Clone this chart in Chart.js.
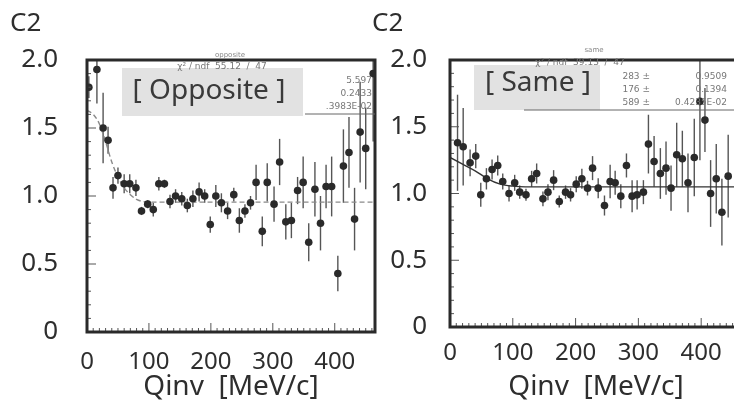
<!DOCTYPE html>
<html lang="ja">
<head>
<meta charset="UTF-8">
<title>C2 vs Qinv</title>
<script src="https://cdn.jsdelivr.net/npm/chart.js"></script>
<style>
  body {
    margin: 0;
    width: 734px;
    height: 406px;
    overflow: hidden;
    position: relative;
    background: #fff;
  }
  .panel { position: absolute; top: 0; width: 380px; height: 406px; }
  #leftPanel { left: 0; }
  #rightPanel { left: 367px; }
</style>
</head>
<body>
<div class="panel" id="leftPanel"><canvas id="opp" width="380" height="406"></canvas></div>
<div class="panel" id="rightPanel"><canvas id="same" width="380" height="406"></canvas></div>
<script>
// axis ticks
const xTicks = [0, 100, 200, 300, 400];
const yTicks = [0, 0.5, 1.0, 1.5, 2.0];
const yTickLabels = ['0', '0.5', '1.0', '1.5', '2.0'];

// [ Opposite ] : Qinv (MeV/c), C2, error
const oppQ = [3, 16, 26, 34, 42, 50, 60, 69, 79, 88,
  98, 107, 116, 125, 134, 143, 153, 162, 171, 181,
  190, 199, 208, 217, 227, 237, 246, 255, 264, 273,
  283, 291, 302, 311, 321, 330, 340, 349, 358, 368,
  377, 386, 395, 405, 414, 423, 432, 441, 450, 462];
const oppC2 = [1.80, 1.93, 1.50, 1.41, 1.06, 1.15, 1.09, 1.09, 1.06, 0.89,
  0.94, 0.90, 1.09, 1.09, 0.96, 1.00, 0.98, 0.93, 0.98, 1.03,
  1.00, 0.79, 1.00, 0.95, 0.89, 1.01, 0.82, 0.89, 0.95, 1.10,
  0.74, 1.10, 0.94, 1.25, 0.81, 0.82, 1.04, 1.10, 0.66, 1.05,
  0.80, 1.07, 1.07, 0.43, 1.22, 1.32, 0.83, 1.47, 1.35, 1.90];
const oppErr = [0.08, 0.25, 0.26, 0.10, 0.08, 0.06, 0.07, 0.07, 0.06, 0.03,
  0.03, 0.05, 0.05, 0.03, 0.05, 0.05, 0.05, 0.05, 0.06, 0.07,
  0.05, 0.06, 0.08, 0.07, 0.06, 0.05, 0.09, 0.05, 0.05, 0.13,
  0.11, 0.14, 0.13, 0.17, 0.13, 0.13, 0.10, 0.19, 0.14, 0.20,
  0.20, 0.16, 0.22, 0.13, 0.27, 0.26, 0.23, 0.37, 0.30, 0.50];
const oppFitQ = [0, 10, 20, 30, 40, 50, 60, 70, 80, 90, 100, 465];
const oppFitC2 = [1.63, 1.60, 1.53, 1.40, 1.25, 1.14, 1.06, 1.01, 0.975, 0.96, 0.955, 0.955];

// [ Same ]
const sameQ = [12, 21, 32, 41, 49, 58, 67, 76, 84, 94,
  103, 111, 121, 130, 138, 148, 156, 165, 174, 184,
  192, 201, 210, 219, 227, 236, 246, 255, 263, 272,
  281, 290, 298, 308, 316, 325, 335, 344, 352, 361,
  370, 379, 389, 398, 406, 415, 424, 433, 443];
const sameC2 = [1.38, 1.35, 1.23, 1.28, 0.99, 1.11, 1.18, 1.21, 1.09, 1.00,
  1.08, 1.01, 0.99, 1.11, 1.15, 0.96, 1.01, 1.10, 0.94, 1.01,
  0.99, 1.07, 1.11, 1.04, 1.19, 1.04, 0.91, 1.09, 1.08, 0.98,
  1.21, 0.98, 0.99, 1.01, 1.37, 1.24, 1.15, 1.19, 1.04, 1.29,
  1.26, 1.08, 1.27, 1.69, 1.55, 1.00, 1.11, 0.86, 1.13];
const sameErr = [0.36, 0.29, 0.10, 0.09, 0.09, 0.08, 0.075, 0.075, 0.06, 0.06,
  0.06, 0.05, 0.045, 0.06, 0.075, 0.055, 0.06, 0.075, 0.045, 0.05,
  0.05, 0.06, 0.075, 0.055, 0.09, 0.075, 0.075, 0.125, 0.09, 0.09,
  0.09, 0.12, 0.11, 0.09, 0.22, 0.19, 0.19, 0.20, 0.17, 0.24,
  0.21, 0.22, 0.29, 0.44, 0.24, 0.25, 0.26, 0.25, 0.31];
const sameFitQ = [0, 20, 40, 60, 80, 100, 120, 465];
const sameFitC2 = [1.27, 1.22, 1.17, 1.11, 1.07, 1.055, 1.05, 1.05];

const ink = '#2a2a2a';
const TXT = "'Noto Sans', sans-serif";
const TINY = "9px 'DejaVu Sans', sans-serif";

function makePanel(id, p) {
  const pts = p.q.map((q, i) => ({ x: q, y: p.c2[i] }));
  const fit = p.fitQ.map((q, i) => ({ x: q, y: p.fitC2[i] }));

  const errorBars = {
    id: 'errorBars',
    beforeDatasetsDraw(chart) {
      const { ctx, chartArea: a, scales: { x, y } } = chart;
      ctx.save();
      ctx.beginPath();
      ctx.rect(a.left, a.top, a.width, a.height);
      ctx.clip();
      ctx.strokeStyle = '#555';
      ctx.lineWidth = 1.4;
      p.q.forEach((q, i) => {
        const px = x.getPixelForValue(q);
        ctx.beginPath();
        ctx.moveTo(px, y.getPixelForValue(p.c2[i] - p.err[i]));
        ctx.lineTo(px, y.getPixelForValue(p.c2[i] + p.err[i]));
        ctx.stroke();
      });
      ctx.restore();
    }
  };

  const frame = {
    id: 'frame',
    afterDraw(chart) {
      const { ctx, chartArea: a, scales: { x, y } } = chart;
      ctx.save();
      // little inside ticks, ROOT style
      ctx.strokeStyle = '#555';
      ctx.lineWidth = 1;
      for (let k = 0; k <= 20; k++) {
        const py = y.getPixelForValue(k / 10);
        const len = k % 5 === 0 ? 9 : 4;
        ctx.beginPath();
        ctx.moveTo(a.left, py);
        ctx.lineTo(a.left + len, py);
        ctx.stroke();
      }
      for (let v = 0; v <= x.max; v += 10) {
        const px = x.getPixelForValue(v);
        const len = v % 100 === 0 ? 9 : 4;
        ctx.beginPath();
        ctx.moveTo(px, a.bottom);
        ctx.lineTo(px, a.bottom - len);
        ctx.stroke();
      }
      ctx.lineWidth = 3;
      ctx.strokeStyle = ink;
      ctx.strokeRect(a.left, a.top, a.width, a.height);
      p.decor(ctx, a);
      ctx.restore();
    }
  };

  return new Chart(document.getElementById(id), {
    type: 'scatter',
    data: {
      datasets: [
        {
          data: pts,
          pointRadius: 3.8,
          pointBackgroundColor: ink,
          pointBorderWidth: 0
        },
        {
          data: fit,
          showLine: true,
          pointRadius: 0,
          borderColor: p.fitColor,
          borderWidth: 1.4,
          borderDash: p.fitDash,
          cubicInterpolationMode: 'monotone'
        }
      ]
    },
    options: {
      responsive: false,
      animation: false,
      layout: { padding: { top: 60, right: 5, left: 0, bottom: 0 } },
      plugins: { legend: { display: false }, tooltip: { enabled: false } },
      scales: {
        x: {
          type: 'linear',
          min: 0,
          max: 465,
          afterBuildTicks: s => { s.ticks = xTicks.map(v => ({ value: v })); },
          afterFit: s => { s.height = p.bottomH; },
          grid: { display: false },
          border: { display: false },
          ticks: { color: '#2e2e2e', font: { family: TXT, size: 24 }, padding: p.xPad, maxRotation: 0 },
          title: {
            display: true,
            text: 'Qinv  [MeV/c]',
            color: '#2e2e2e',
            font: { family: TXT, size: 28 },
            padding: { top: 0, bottom: 2 }
          }
        },
        y: {
          min: 0,
          max: 2,
          afterBuildTicks: s => { s.ticks = yTicks.map(v => ({ value: v })); },
          afterFit: s => { s.width = p.leftW; },
          grid: { display: false },
          border: { display: false },
          ticks: {
            color: '#2e2e2e',
            font: { family: TXT, size: 26 },
            padding: p.yPad,
            callback: (v, i) => yTickLabels[i]
          }
        }
      }
    },
    plugins: [errorBars, frame]
  });
}

function txt(ctx, s, x, y, font, align, color) {
  ctx.font = font;
  ctx.textAlign = align;
  ctx.textBaseline = 'middle';
  ctx.fillStyle = color;
  ctx.fillText(s, x, y);
}

makePanel('opp', {
  q: oppQ, c2: oppC2, err: oppErr, fitQ: oppFitQ, fitC2: oppFitC2,
  fitColor: '#8a8a8a', fitDash: [5, 3],
  leftW: 87, bottomH: 74, xPad: 8, yPad: 21,
  decor(ctx, a) {
    txt(ctx, 'C2', a.left - 77, a.top - 36, `26px ${TXT}`, 'left', '#2e2e2e');
    txt(ctx, 'opposite', a.left + 143, a.top - 5, "7px 'DejaVu Sans', sans-serif", 'center', '#888');
    ctx.fillStyle = 'rgba(190,190,190,0.45)';
    ctx.fillRect(a.left + 35, a.top + 8, 181, 48);
    txt(ctx, '[ Opposite ]', a.left + 122, a.top + 31, `28px ${TXT}`, 'center', '#3a3a3a');
    txt(ctx, 'χ² / ndf  55.12  /  47', a.left + 135, a.top + 7, TINY, 'center', '#777');
    txt(ctx, '5.597', a.left + 285, a.top + 21, TINY, 'right', '#777');
    txt(ctx, '0.2433', a.left + 285, a.top + 34, TINY, 'right', '#777');
    txt(ctx, '.3983E-02', a.left + 285, a.top + 47, TINY, 'right', '#777');
    ctx.strokeStyle = '#666';
    ctx.lineWidth = 1;
    ctx.beginPath();
    ctx.moveTo(a.left + 218, a.top + 54);
    ctx.lineTo(a.right, a.top + 54);
    ctx.stroke();
  }
});

makePanel('same', {
  q: sameQ, c2: sameC2, err: sameErr, fitQ: sameFitQ, fitC2: sameFitC2,
  fitColor: '#333', fitDash: [],
  leftW: 83, bottomH: 79, xPad: 4, yPad: 15,
  decor(ctx, a) {
    txt(ctx, 'C2', a.left - 78, a.top - 36, `26px ${TXT}`, 'left', '#2e2e2e');
    txt(ctx, 'same', a.left + 144, a.top - 10, "7px 'DejaVu Sans', sans-serif", 'center', '#888');
    ctx.fillStyle = 'rgba(190,190,190,0.45)';
    ctx.fillRect(a.left + 24, a.top + 5, 126, 45);
    txt(ctx, '[ Same ]', a.left + 88, a.top + 23, `28px ${TXT}`, 'center', '#3a3a3a');
    txt(ctx, 'χ² / ndf  39.13  /  47', a.left + 130, a.top + 3, TINY, 'center', '#777');
    txt(ctx, '283 ±', a.left + 200, a.top + 17, TINY, 'right', '#777');
    txt(ctx, '0.9509', a.left + 277, a.top + 17, TINY, 'right', '#777');
    txt(ctx, '176 ±', a.left + 200, a.top + 30, TINY, 'right', '#777');
    txt(ctx, '0.1394', a.left + 277, a.top + 30, TINY, 'right', '#777');
    txt(ctx, '589 ±', a.left + 200, a.top + 43, TINY, 'right', '#777');
    txt(ctx, '0.4235E-02', a.left + 277, a.top + 43, TINY, 'right', '#777');
    ctx.strokeStyle = '#666';
    ctx.lineWidth = 1;
    ctx.beginPath();
    ctx.moveTo(a.left + 74, a.top + 50);
    ctx.lineTo(a.right, a.top + 50);
    ctx.stroke();
  }
});
</script>
</body>
</html>
